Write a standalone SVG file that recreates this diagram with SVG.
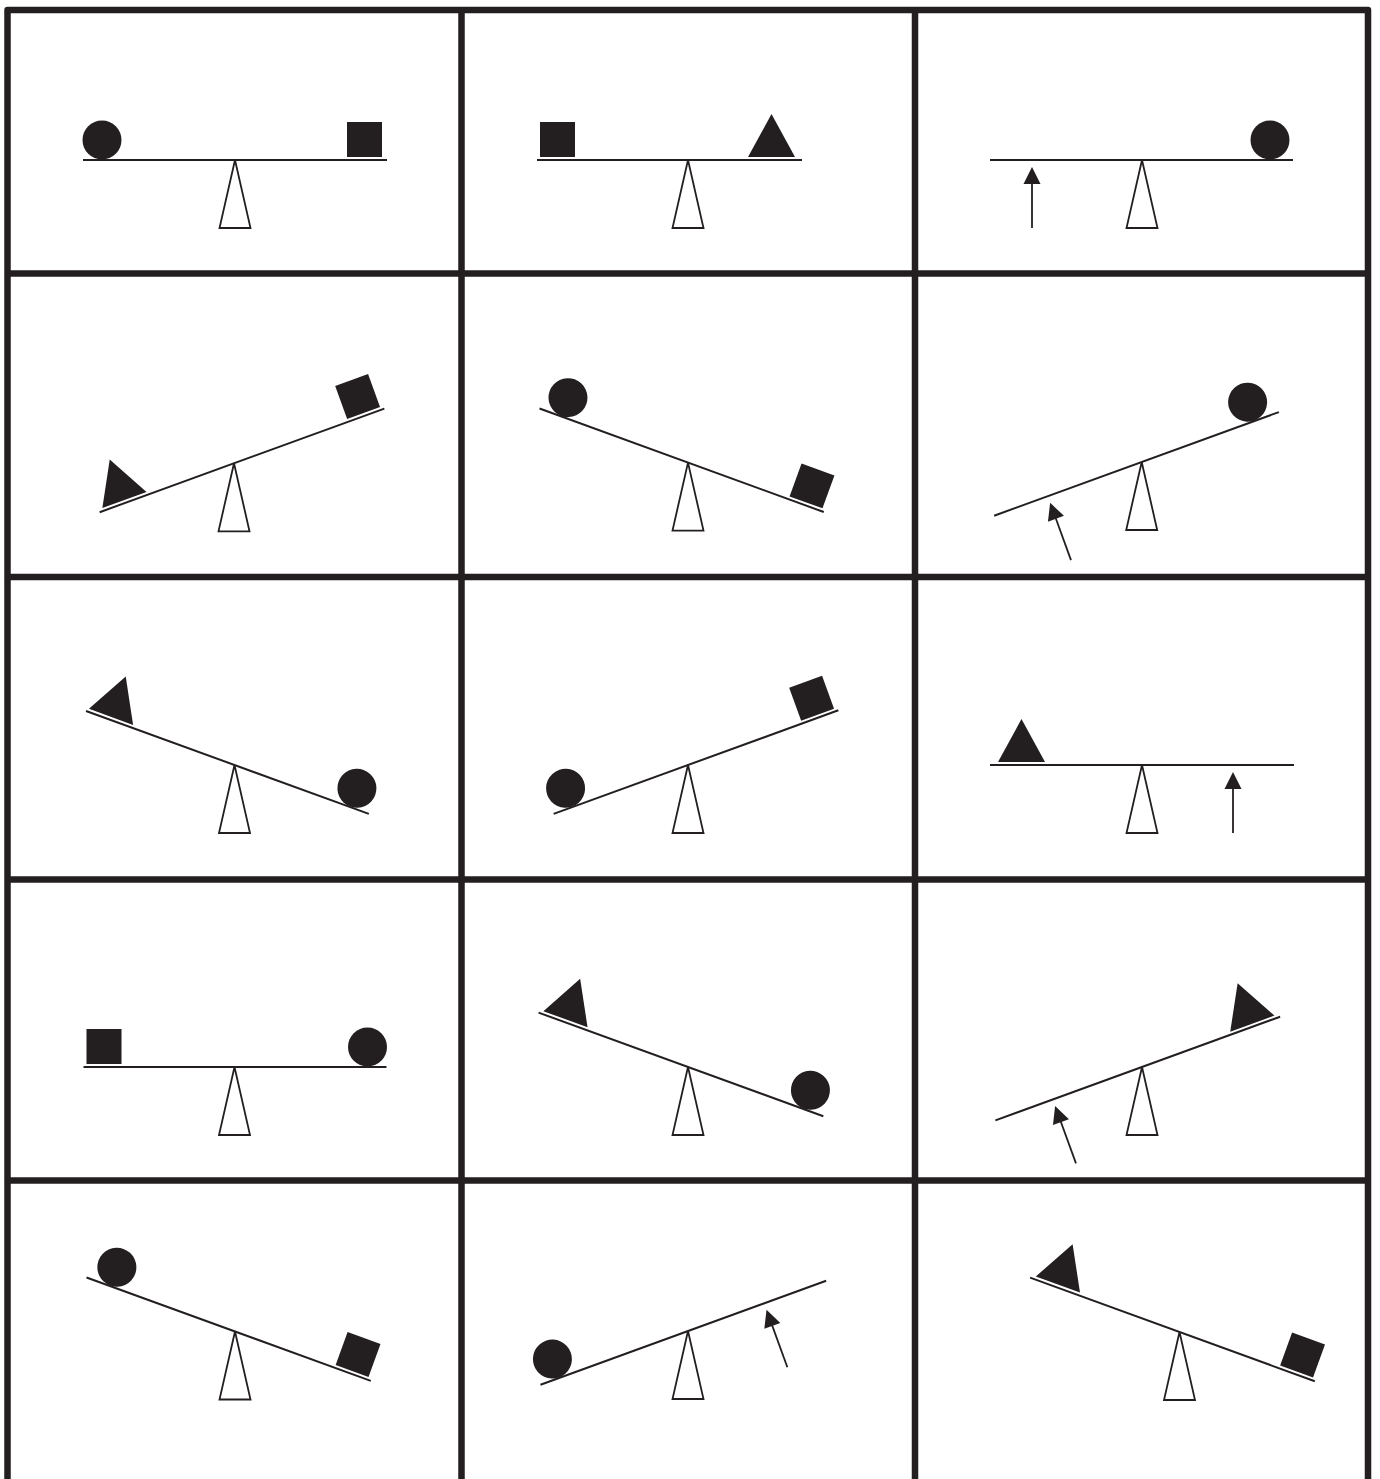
<svg xmlns="http://www.w3.org/2000/svg" xmlns:xlink="http://www.w3.org/1999/xlink" width="1380" height="1479" viewBox="0 0 1380 1479">
<style>
.grid{fill:none;stroke:#231f20;stroke-width:6.5;stroke-linejoin:round}
.beam{stroke:#231f20;stroke-width:2}
.fulcrum{fill:#fff;stroke:#231f20;stroke-width:1.8;stroke-linejoin:miter}
.obj{fill:#231f20;stroke:none}
.force{stroke:#231f20;stroke-width:1.8}
</style>
<defs>
<path id="fulcrum" class="fulcrum" d="M0,0 L15.5,68 L-15.5,68 Z"/>
<circle id="ball" class="obj" cx="0" cy="-20" r="19.5"/>
<rect id="square" class="obj" x="0" y="-38" width="35" height="35"/>
<path id="tri" class="obj" d="M0,-3 L47,-3 L23.5,-46 Z"/>
<g id="arrow"><line class="force" x1="0" y1="68" x2="0" y2="20"/><path class="obj" d="M0,7 L8.5,24 L-8.5,24 Z"/></g>
</defs>
<rect width="1380" height="1479" fill="#fff"/>
<g id="grid">
<path class="grid" d="M7.5,1479 V10 H1368 V1479"/>
<path class="grid" d="M461.5,10 V1479 M915,10 V1479 M7.5,273.5 H1368 M7.5,577 H1368 M7.5,879.5 H1368 M7.5,1180.5 H1368"/>
</g>
<g id="connectors"></g>
<g id="r1c1" transform="translate(235,160)"><use href="#fulcrum"/><g transform="rotate(0)"><line class="beam" x1="-152" y1="0" x2="152" y2="0"/><use href="#ball" x="-133"/><use href="#square" x="112"/></g></g>
<g id="r1c2" transform="translate(688,160)"><use href="#fulcrum"/><g transform="rotate(0)"><line class="beam" x1="-151" y1="0" x2="114" y2="0"/><use href="#square" x="-148"/><use href="#tri" x="60"/></g></g>
<g id="r1c3" transform="translate(1142,160)"><use href="#fulcrum"/><g transform="rotate(0)"><line class="beam" x1="-152" y1="0" x2="151" y2="0"/><use href="#ball" x="128"/><use href="#arrow" x="-110"/></g></g>
<g id="r2c1" transform="translate(234,463.3)"><use href="#fulcrum"/><g transform="rotate(-20)"><line class="beam" x1="-143" y1="0" x2="160" y2="0"/><use href="#tri" x="-139"/><use href="#square" x="121.5"/></g></g>
<g id="r2c2" transform="translate(688,462.6)"><use href="#fulcrum"/><g transform="rotate(20)"><line class="beam" x1="-158" y1="0" x2="144.5" y2="0"/><use href="#ball" x="-135"/><use href="#square" x="107"/></g></g>
<g id="r2c3" transform="translate(1141.7,462)"><use href="#fulcrum"/><g transform="rotate(-20)"><line class="beam" x1="-157" y1="0" x2="146" y2="0"/><use href="#ball" x="120"/><use href="#arrow" x="-100"/></g></g>
<g id="r3c1" transform="translate(234.5,765)"><use href="#fulcrum"/><g transform="rotate(20)"><line class="beam" x1="-158" y1="0" x2="143" y2="0"/><use href="#tri" x="-156"/><use href="#ball" x="123"/></g></g>
<g id="r3c2" transform="translate(688,765)"><use href="#fulcrum"/><g transform="rotate(-20)"><line class="beam" x1="-143" y1="0" x2="160" y2="0"/><use href="#ball" x="-123"/><use href="#square" x="121.5"/></g></g>
<g id="r3c3" transform="translate(1142,765)"><use href="#fulcrum"/><g transform="rotate(0)"><line class="beam" x1="-152" y1="0" x2="152" y2="0"/><use href="#tri" x="-144"/><use href="#arrow" x="91"/></g></g>
<g id="r4c1" transform="translate(234.5,1067)"><use href="#fulcrum"/><g transform="rotate(0)"><line class="beam" x1="-151" y1="0" x2="152" y2="0"/><use href="#square" x="-148"/><use href="#ball" x="133"/></g></g>
<g id="r4c2" transform="translate(688,1067)"><use href="#fulcrum"/><g transform="rotate(20)"><line class="beam" x1="-159" y1="0" x2="144" y2="0"/><use href="#tri" x="-155"/><use href="#ball" x="123"/></g></g>
<g id="r4c3" transform="translate(1142,1067)"><use href="#fulcrum"/><g transform="rotate(-20)"><line class="beam" x1="-156" y1="0" x2="147" y2="0"/><use href="#tri" x="95"/><use href="#arrow" x="-95"/></g></g>
<g id="r5c1" transform="translate(235,1331.5)"><use href="#fulcrum"/><g transform="rotate(20)"><line class="beam" x1="-158" y1="0" x2="144.5" y2="0"/><use href="#ball" x="-133"/><use href="#square" x="106"/></g></g>
<g id="r5c2" transform="translate(688,1331)"><use href="#fulcrum"/><g transform="rotate(-20)"><line class="beam" x1="-157" y1="0" x2="147" y2="0"/><use href="#ball" x="-137"/><use href="#arrow" x="81"/></g></g>
<g id="r5c3" transform="translate(1179.5,1332)"><use href="#fulcrum"/><g transform="rotate(20)"><line class="beam" x1="-159" y1="0" x2="144" y2="0"/><use href="#tri" x="-154"/><use href="#square" x="106"/></g></g>
</svg>
